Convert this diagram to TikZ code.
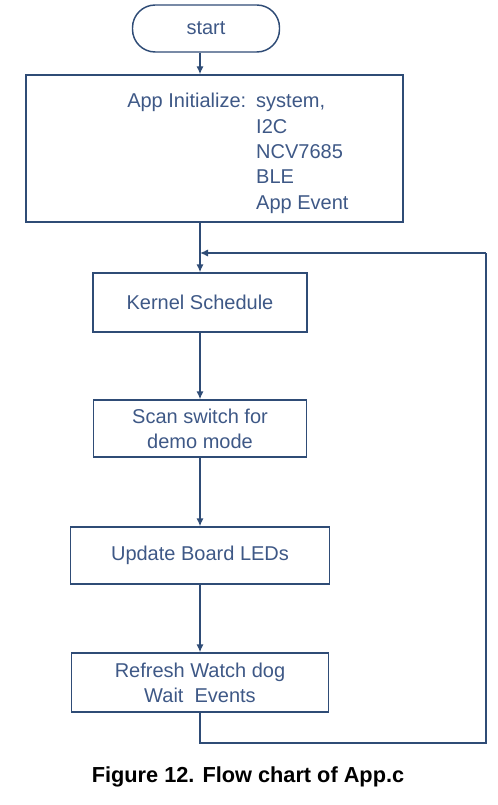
\documentclass[tikz,border=0pt]{standalone}
\usepackage{fontspec}
\setmainfont{Liberation Sans}
\usetikzlibrary{arrows.meta}

\definecolor{flowline}{RGB}{47,76,118}
\definecolor{flowtext}{RGB}{62,88,134}

\tikzset{
  flowbox/.style={draw=flowline, line width=1.1pt, rectangle, inner sep=0.75pt,
    text=flowtext, font=\fontsize{15}{18.75}\selectfont, align=center},
  terminal/.style={flowbox, rounded corners=17pt},
  flowarrow/.style={draw=flowline, line width=1.1pt, -{Latex[length=6pt,width=5.5pt]}},
  flowlink/.style={draw=flowline, line width=1.1pt}
}

\begin{document}
\begin{tikzpicture}[x=0.75pt,y=0.75pt,yscale=-1,xscale=1]
  \useasboundingbox (0,0) rectangle (497,805);

  % Terminal
  \node [terminal, minimum width=110.25pt, minimum height=35.25pt] (start) at (206,28.5) {start};
  % Boxes
  \node [flowbox, minimum width=282.75pt, minimum height=110.25pt] (init) at (214.5,148.5) {};
  \node [flowbox, minimum width=160.5pt, minimum height=44.25pt] (kernel) at (200,302.5) {Kernel Schedule};
  \node [flowbox, minimum width=159.75pt, minimum height=42.75pt] (scan) at (200,428.5) {Scan switch for\\demo mode};
  \node [flowbox, minimum width=194.25pt, minimum height=42.75pt] (leds) at (200,555.5) {Update Board LEDs};
  \node [flowbox, minimum width=192.75pt, minimum height=44.25pt] (refresh) at (200,682.5) {Refresh Watch dog\\Wait\ \ Events};

  % Text Node
  \node [anchor=north west, inner sep=0pt, text=flowtext, font=\fontsize{15}{18.75}\selectfont] (initlist) at (127,90)
    {\begin{tabular}{@{}l@{\hspace{7.5pt}}l@{}}
      App Initialize: & system,\\[0.3pt]
       & I2C\\[0.3pt]
       & NCV7685\\[0.3pt]
       & BLE\\[0.3pt]
       & App Event
    \end{tabular}};

  %Straight Lines
  \draw [flowarrow] (start.south -| kernel.north) -- (init.north -| kernel.north);
  \draw [flowarrow] (init.south -| kernel.north) -- (kernel.north);
  \draw [flowarrow] (kernel.south) -- (scan.north);
  \draw [flowarrow] (scan.south) -- (leds.north);
  \draw [flowarrow] (leds.south) -- (refresh.north);

  %Loop back
  \coordinate (loopbottom) at (486,743);
  \coordinate (looptop) at (486,253);
  \draw [flowlink] (refresh.south) |- (loopbottom) -- (looptop);
  \draw [flowarrow] (looptop) -- (looptop -| kernel.north);

  % Caption
  \node [inner sep=0pt, font=\fontsize{16.3}{19}\selectfont\bfseries] (caption) at (248,777) {Figure 12. Flow chart of App.c};
\end{tikzpicture}
\end{document}
